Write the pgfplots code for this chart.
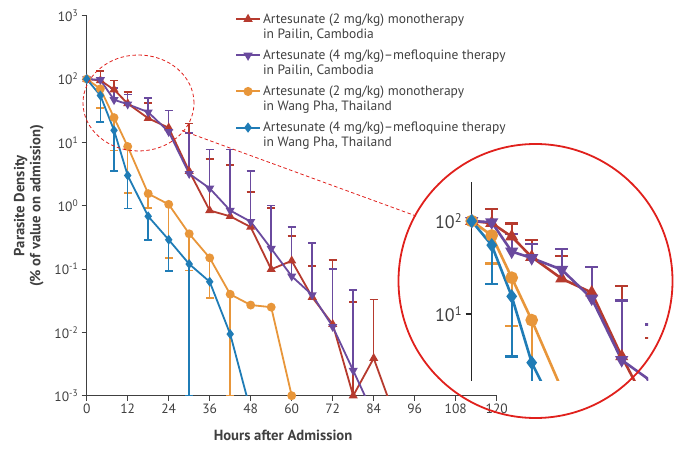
\documentclass[border=0pt]{standalone}
\usepackage{fontspec}
\setmainfont{PT Sans}
\usepackage{pgfplots}
\usepackage{pgfplotstable}
\pgfplotsset{compat=1.18}

\definecolor{cred}{HTML}{B63A2E}
\definecolor{cpurple}{HTML}{6A4A9E}
\definecolor{corange}{HTML}{E8963A}
\definecolor{cblue}{HTML}{1F7CB6}
\definecolor{ctext}{HTML}{404040}
\definecolor{cring}{HTML}{E0201C}

% Pailin, artesunate 2 mg/kg
\pgfplotstableread{
t v
0 100
4 95
8 68
12 41
18 24
24 17
30 3.5
36 0.84
42 0.68
48 0.46
54 0.099
60 0.135
66 0.036
72 0.0134
78 0.001
84 0.0039
}\redline
\pgfplotstableread{
t v e
4 95 40
8 68 26
12 41 21
18 24 18
30 3.5 16.5
36 0.84 4.66
42 0.68 3.72
48 0.46 1.2
54 0.099 0.821
60 0.135 0.195
66 0.036 0.076
72 0.0134 0.1266
78 0.001 0.029
84 0.0039 0.0291
}\rederr

% Pailin, artesunate 4 mg/kg + mefloquine
\pgfplotstableread{
t v
0 100
4 97
8 47
12 40
18 30
24 14.7
30 3.2
36 1.88
42 0.84
48 0.56
54 0.21
60 0.077
66 0.039
72 0.0123
78 0.0025
}\purpleline
\pgfplotstableread{
t v e
8 47 25
12 40 17
18 30 20
24 14.7 17.3
30 3.2 10.8
36 1.88 5.82
42 0.84 6.86
48 0.56 2.99
54 0.21 0.79
60 0.077 0.383
66 0.039 0.221
72 0.0123 0.0877
78 0.0025 0.0445
}\purpleerr

% Wang Pha, artesunate 2 mg/kg
\pgfplotstableread{
t v
0 100
4 70
8 24.6
12 8.6
18 1.55
24 1.05
30 0.36
36 0.15
42 0.04
48 0.027
54 0.025
60 0.001
}\orangeline
\pgfplotstableread{
t v e
4 70 35
8 24.6 17.2
12 8.6 7.0
18 1.55 0.63
24 1.05 0.90
30 0.36 0.265
36 0.15 0.115
42 0.04 0.039
}\orangeerr

% Wang Pha, artesunate 4 mg/kg + mefloquine
\pgfplotstableread{
t v
0 100
4 55
8 15.5
12 3.0
18 0.68
24 0.29
30 0.12
36 0.063
42 0.0094
}\blueline
\pgfplotstableread{
t v e
4 55 34
8 15.5 12
12 3.0 2.1
18 0.68 0.395
24 0.29 0.197
30 0.12 0.119
}\blueerr

\pgfplotsset{
  errw/.initial=1.5pt,
  errcap/.initial=4pt,
  errbar/.style 2 args={draw=none, forget plot,
    error bars/.cd, y dir=#2, y explicit, error mark=-,
    error bar style={draw=#1, solid, line width=\pgfkeysvalueof{/pgfplots/errw}},
    error mark options={rotate=90, draw=#1, solid, mark size=\pgfkeysvalueof{/pgfplots/errcap}, line width=\pgfkeysvalueof{/pgfplots/errw}}},
}

\begin{document}
\begin{tikzpicture}
\useasboundingbox (0pt,0pt) rectangle (685pt,450pt);

\begin{axis}[
  at={(86.7pt,54.3pt)}, anchor=south west,
  scale only axis, width=410pt, height=380pt,
  ymode=log, xmin=0, xmax=120, ymin=1e-3, ymax=1e3,
  axis lines=left,
  axis line style={-, draw=ctext, line width=0.8pt},
  tick align=outside, major tick length=5pt,
  tick style={draw=ctext, line width=0.8pt},
  xtick={0,12,...,120},
  ytick={1e-3,1e-2,1e-1,1,10,100,1000},
  yticklabels={10\textsuperscript{-3},10\textsuperscript{-2},10\textsuperscript{-1},10\textsuperscript{0},10\textsuperscript{1},10\textsuperscript{2},10\textsuperscript{3}},
  yminorticks=false,
  /pgf/number format/assume math mode=true,
  ticklabel style={font=\fontsize{13.5}{15}\selectfont, text=ctext},
  xlabel={Hours after Admission},
  ylabel={Parasite Density\\(\% of value on admission)},
  label style={font=\bfseries\fontsize{14.7}{16}\selectfont, text=ctext, align=center},
  xlabel style={at={(axis description cs:0.479,-0.1034)}, anchor=center},
  ylabel style={at={(axis description cs:-0.141,0.5)}, anchor=center},
  legend style={at={(0.354,1.017)}, anchor=north west, draw=none, fill=none,
    font=\fontsize{13.5}{15.5}\selectfont, text=ctext, row sep=5.5pt,
    cells={align=left}},
  legend cell align=left,
  legend image code/.code={\draw[mark repeat=2,mark phase=2,#1,line width=2pt] plot coordinates {(0pt,7.5pt) (12pt,7.5pt) (24pt,7.5pt)};},
  every axis plot/.append style={line width=1.8pt, mark size=3.5pt, mark options={solid}},
]
% error bars first, behind the lines
\addplot[errbar={cred}{plus}] table[x=t, y=v, y error plus=e] {\rederr};
\addplot[errbar={cpurple}{plus}] table[x=t, y=v, y error plus=e] {\purpleerr};
\addplot[errbar={corange}{minus}] table[x=t, y=v, y error minus=e] {\orangeerr};
\addplot[errbar={cblue}{minus}] table[x=t, y=v, y error minus=e] {\blueerr};

\addplot[cred, mark=triangle*] table[x=t, y=v] {\redline};
\addlegendentry{Artesunate (2 mg/kg) monotherapy\\in Pailin, Cambodia}
\addplot[cpurple, mark=triangle*, mark options={rotate=180}] table[x=t, y=v] {\purpleline};
\addlegendentry{Artesunate (4 mg/kg)–mefloquine therapy\\in Pailin, Cambodia}
\addplot[corange, mark=*] table[x=t, y=v] {\orangeline};
\addlegendentry{Artesunate (2 mg/kg) monotherapy\\in Wang Pha, Thailand}
\addplot[cblue, mark=diamond*] table[x=t, y=v] {\blueline};
\addlegendentry{Artesunate (4 mg/kg)–mefloquine therapy\\in Wang Pha, Thailand}

% lines leaving the axis at the bottom
\addplot[cred, forget plot] coordinates {(84,0.0039) (90,0.0005)};
\addplot[cpurple, forget plot] coordinates {(78,0.0025) (84,0.0005)};
\addplot[cblue, forget plot] coordinates {(42,0.0094) (48,0.00057)};
\end{axis}

% magnified view of the first 36 hours
\begin{scope}
\clip (420pt,69.3pt) rectangle (648pt,275pt);
\begin{axis}[
  at={(471.7pt,69.3pt)}, anchor=south west,
  scale only axis, width=175pt, height=199pt,
  ymode=log, xmin=0, xmax=35, ymin=1.919, ymax=264.8,
  clip=false,
  axis x line=none, axis y line=left,
  axis line style={-, draw=black!85, line width=1.1pt},
  tick align=outside, major tick length=6pt,
  tick style={draw=black!85, line width=1.1pt},
  ytick={10,100},
  yticklabels={10\textsuperscript{1},10\textsuperscript{2}},
  yminorticks=false,
  ticklabel style={font=\fontsize{18}{20}\selectfont, text=ctext},
  errw=2.2pt, errcap=6.5pt,
  every axis plot/.append style={line width=2.6pt, mark size=5pt, mark options={solid}},
]
\addplot[errbar={cred}{plus}] table[x=t, y=v, y error plus=e] {\rederr};
\addplot[errbar={cpurple}{plus}] table[x=t, y=v, y error plus=e] {\purpleerr};
\addplot[errbar={corange}{minus}] table[x=t, y=v, y error minus=e] {\orangeerr};
\addplot[errbar={cblue}{minus}] table[x=t, y=v, y error minus=e] {\blueerr};
\addplot[cred, mark=triangle*] table[x=t, y=v] {\redline};
\addplot[cpurple, mark=triangle*, mark options={rotate=180}] table[x=t, y=v] {\purpleline};
\addplot[corange, mark=*] table[x=t, y=v] {\orangeline};
\addplot[cblue, mark=diamond*] table[x=t, y=v] {\blueline};
\end{axis}
\end{scope}

\draw[cring, line width=0.8pt, dash pattern=on 3.5pt off 2.5pt] (138.5pt,347pt) ellipse [x radius=55.5pt, y radius=48pt];
\draw[cring, line width=0.8pt, dash pattern=on 3.5pt off 2.5pt] (182pt,319.5pt) -- (416pt,234pt);
\draw[cring, line width=1.8pt] (535.5pt,169pt) circle [radius=137pt];
\end{tikzpicture}
\end{document}
